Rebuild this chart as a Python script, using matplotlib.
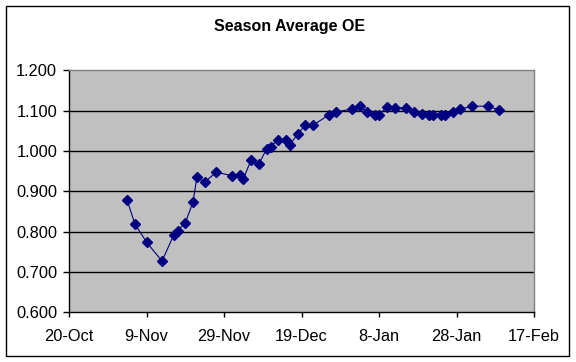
import matplotlib
matplotlib.use("Agg")
import matplotlib.pyplot as plt
from matplotlib.patches import Rectangle
import datetime as dt

plt.rcParams['font.family'] = ['Liberation Sans', 'DejaVu Sans']

title = "Season Average OE"
dates = ["2006-11-04", "2006-11-06", "2006-11-09", "2006-11-13", "2006-11-16", "2006-11-17",
         "2006-11-19", "2006-11-21", "2006-11-22", "2006-11-24", "2006-11-27", "2006-12-01",
         "2006-12-03", "2006-12-04", "2006-12-06", "2006-12-08", "2006-12-10", "2006-12-11",
         "2006-12-13", "2006-12-15", "2006-12-16", "2006-12-18", "2006-12-20", "2006-12-22",
         "2006-12-26", "2006-12-28", "2007-01-01", "2007-01-03", "2007-01-05", "2007-01-07",
         "2007-01-08", "2007-01-10", "2007-01-12", "2007-01-15", "2007-01-17", "2007-01-19",
         "2007-01-21", "2007-01-22", "2007-01-24", "2007-01-25", "2007-01-27", "2007-01-29",
         "2007-02-01", "2007-02-05", "2007-02-08"]
values = [0.878, 0.819, 0.774, 0.727, 0.791, 0.802, 0.822, 0.873, 0.935, 0.923,
          0.947, 0.939, 0.941, 0.931, 0.978, 0.968, 1.005, 1.011, 1.027, 1.027,
          1.015, 1.042, 1.064, 1.064, 1.089, 1.097, 1.104, 1.111, 1.097, 1.088,
          1.088, 1.110, 1.107, 1.107, 1.097, 1.092, 1.088, 1.088, 1.088, 1.088,
          1.097, 1.104, 1.111, 1.111, 1.102]
xtick_dates = ["2006-10-20", "2006-11-09", "2006-11-29", "2006-12-19",
               "2007-01-08", "2007-01-28", "2007-02-17"]
yticks = [0.6, 0.7, 0.8, 0.9, 1.0, 1.1, 1.2]

x = [dt.datetime.strptime(d, "%Y-%m-%d") for d in dates]
xt = [dt.datetime.strptime(d, "%Y-%m-%d") for d in xtick_dates]

fig = plt.figure(figsize=(5.76, 3.62), dpi=100)
fig.patch.set_facecolor('white')
fig.add_artist(Rectangle((6/576, 6/362), 563/576, 350/362, transform=fig.transFigure,
                         fill=False, edgecolor='black', linewidth=1.0))

ax = fig.add_axes([69/576, (362-312.3)/362, 465/576, 242/362])
ax.set_facecolor('#C0C0C0')
ax.plot(x, values, color='#000080', linewidth=0.8, marker='D', markersize=5,
        markerfacecolor='#000080', markeredgecolor='#000080')

ax.set_xlim(xt[0], xt[-1])
ax.set_ylim(0.6, 1.2)
ax.set_xticks(xt)
ax.set_xticklabels([f"{d.day}-{d.strftime('%b')}" for d in xt])
ax.set_yticks(yticks)
ax.set_yticklabels([f"{v:.3f}" for v in yticks])
for v in yticks[1:-1]:
    ax.axhline(v, color='black', linewidth=1.0, zorder=1)

for s in ['top', 'right']:
    ax.spines[s].set_color('#808080')
for s in ['left', 'bottom']:
    ax.spines[s].set_color('black')
for s in ax.spines.values():
    s.set_linewidth(1.0)

ax.tick_params(axis='y', direction='out', length=4.5, width=1, pad=4, labelsize=11.8, colors='black')
ax.tick_params(axis='x', direction='out', length=3.5, width=1, pad=8.5, labelsize=11.8, colors='black')

fig.text(290/576, 1 - 27/362, title, ha='center', va='center', fontsize=11.5, fontweight='bold')

fig.savefig("out.png", dpi=100)
